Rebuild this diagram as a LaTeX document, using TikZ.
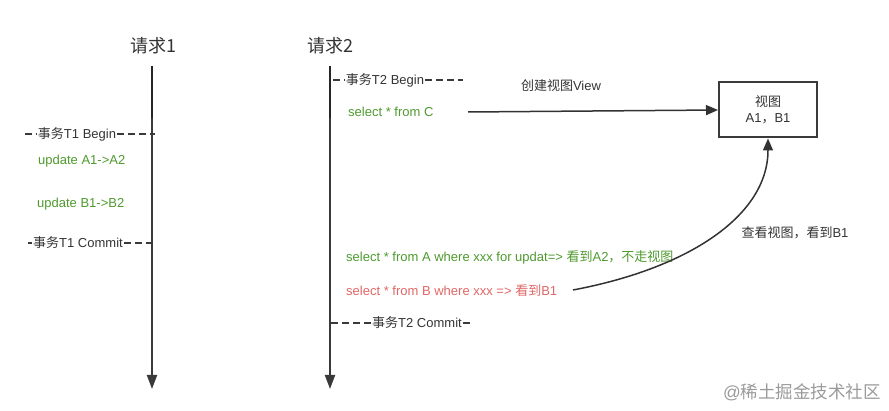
\documentclass[tikz,border=0pt]{standalone}
\usepackage{fontspec}
\setmainfont{Liberation Sans}
\newfontfamily\cjk{Noto Sans CJK SC}
\usetikzlibrary{arrows.meta}
\definecolor{txtgray}{HTML}{333333}
\definecolor{lngray}{HTML}{3A3A3A}
\definecolor{sqlgreen}{HTML}{4E9A2E}
\definecolor{sqlred}{HTML}{E06666}
\definecolor{wm}{HTML}{9A9A9A}
\tikzset{
  x=1pt,y=-1pt,
  lbl/.style={font=\fontsize{13}{15}\selectfont, text=txtgray, inner sep=1pt},
  title/.style={font=\fontsize{18}{21}\selectfont, text=txtgray, inner sep=0pt},
  sqlg/.style={font=\fontsize{13}{15}\selectfont, text=sqlgreen, inner sep=0pt, anchor=west},
  sqlr/.style={font=\fontsize{13}{15}\selectfont, text=sqlred, inner sep=0pt, anchor=west},
  axis/.style={draw=lngray, line width=2pt, -{Triangle[length=14pt,width=10pt]}},
  txdash/.style={draw=lngray, line width=1.5pt, dash pattern=on 7pt off 4pt},
  viewbox/.style={draw=lngray, line width=2pt, fill=white, minimum width=98pt, minimum height=55pt, align=center, font=\fontsize{13}{17}\selectfont, text=txtgray},
  conn/.style={draw=txtgray, line width=1.5pt, -{Triangle[length=12pt,width=10pt]}},
}
\begin{document}
\begin{tikzpicture}
\useasboundingbox (0,0) rectangle (889,411);
% titles
\node[title] (t1) at (153,46) {\cjk 请求1};
\node[title] (t2) at (330,46) {\cjk 请求2};
% axes
\coordinate (a1top) at (152,66);
\coordinate (a1bot) at (152,389);
\coordinate (a2top) at (330,66);
\coordinate (a2bot) at (330,389);
\draw[axis] (a1top) -- (a1bot);
\draw[axis] (a2top) -- (a2bot);
\draw[draw=black!85, line width=2pt] (152,66) -- (152,118);
\draw[draw=black!85, line width=2pt] (330,66) -- (330,118);
% T1 begin
\node[lbl] (b1) at (77,134) {\cjk 事务\rmfamily T1 Begin};
\coordinate (b1l) at (25,134);
\coordinate (b1r) at (155,134);
\draw[txdash] (b1l) -- (b1.west);
\draw[txdash] (b1.east) -- (b1r);
\node[sqlg] (u1) at (38,161) {update A1->A2};
\node[sqlg] (u2) at (37,204) {update B1->B2};
% T1 commit
\node[lbl] (c1) at (78,243) {\cjk 事务\rmfamily T1 Commit};
\coordinate (c1l) at (28,243);
\coordinate (c1r) at (151,243);
\draw[txdash] (c1l) -- (c1.west);
\draw[txdash] (c1.east) -- (c1r);
% T2 begin
\node[lbl] (b2) at (385,80) {\cjk 事务\rmfamily T2 Begin};
\coordinate (b2l) at (333,80);
\coordinate (b2r) at (463,80);
\draw[txdash] (b2l) -- (b2.west);
\draw[txdash] (b2.east) -- (b2r);
\node[sqlg] (sc) at (348,112) {select * from C};
\coordinate (scr) at (468,112);
% view box
\node[viewbox] (vb) at (768,110) {\cjk 视图\\[-1pt]\rmfamily A1{\cjk ，}B1};
\draw[conn] (scr) -- (vb.west);
\node[lbl] (cv) at (561,86) {\cjk 创建视图\rmfamily View};
% selects
\node[sqlg] (sa) at (346,257) {select * from A where xxx for updat=> {\cjk 看到}A2{\cjk ，不走视图}};
\node[sqlr] (sb) at (346,291) {select * from B where xxx => {\cjk 看到}B1};
\coordinate (sbr) at (573,290);
\draw[conn] (sbr) .. controls (690,268) and (768,215) .. (vb.south);
\node[lbl] (ck) at (795,233) {\cjk 查看视图，看到\rmfamily B1};
% T2 commit
\node[lbl] (c2) at (417,323) {\cjk 事务\rmfamily T2 Commit};
\coordinate (c2l) at (331,323);
\coordinate (c2r) at (470,323);
\draw[txdash] (c2l) -- (c2.west);
\draw[txdash] (c2.east) -- (c2r);
% watermark
\node[font=\fontsize{17.5}{20}\selectfont, text=wm, inner sep=0pt] (wmk) at (802,392) {@\cjk 稀土掘金技术社区};
\end{tikzpicture}
\end{document}
